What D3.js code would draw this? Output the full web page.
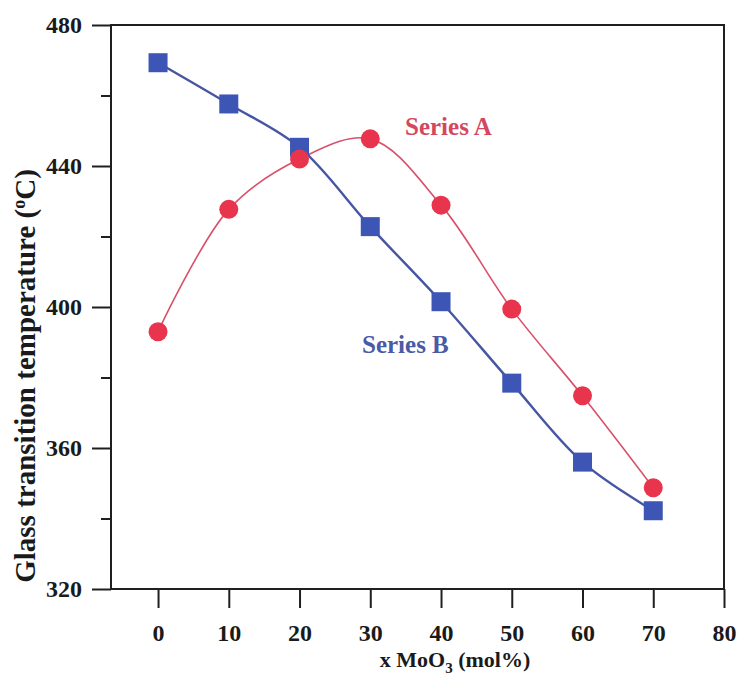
<!DOCTYPE html>
<html>
<head>
<meta charset="utf-8">
<script src="https://cdn.jsdelivr.net/npm/d3@7/dist/d3.min.js"></script>
<style>
  html, body { margin: 0; padding: 0; background: #fff; }
  svg { display: block; }
  text { font-family: "Liberation Serif", "Times New Roman", serif; font-weight: bold; }
</style>
</head>
<body>
<svg id="chart" width="738" height="677"></svg>
<script>
// MoO3 content (mol%)
const moo3 = [0, 10, 20, 30, 40, 50, 60, 70];
// Glass transition temperature (°C)
const seriesA = [393, 427.7, 442, 447.7, 428.9, 399.4, 374.8, 348.7];
const seriesB = [469.3, 457.6, 445.3, 422.8, 401.5, 378.4, 356, 342.2];
const xTicks = [0, 10, 20, 30, 40, 50, 60, 70, 80];
const yTicks = [320, 360, 400, 440, 480];
const yMinorTicks = [340, 380, 420, 460];
const seriesNames = ["Series A", "Series B"];

const svg = d3.select("#chart");
const plot = { left: 111, right: 724, top: 25, bottom: 589 };

const x = d3.scaleLinear().domain([-6.65, 80]).range([plot.left, plot.right]);
const y = d3.scaleLinear().domain([320, 480]).range([plot.bottom, plot.top]);

const colA = { line: "#d9506a", mark: "#e8344c", text: "#d4475e" };
const colB = { line: "#4656a2", mark: "#3d55b4", text: "#4b5aa5" };

// frame
svg.append("rect")
  .attr("x", plot.left).attr("y", plot.top)
  .attr("width", plot.right - plot.left).attr("height", plot.bottom - plot.top)
  .attr("fill", "none").attr("stroke", "#1f1f1f").attr("stroke-width", 2);

// y axis: major + minor ticks
const yAxis = svg.append("g").attr("transform", `translate(${plot.left},0)`)
  .call(d3.axisLeft(y).tickValues(yTicks).tickSize(19).tickPadding(10).tickFormat(d3.format("d")));
const yMinor = svg.append("g").attr("transform", `translate(${plot.left},0)`)
  .call(d3.axisLeft(y).tickValues(yMinorTicks).tickSize(10).tickFormat(""));

// x axis
const xAxis = svg.append("g").attr("transform", `translate(0,${plot.bottom})`)
  .call(d3.axisBottom(x).tickValues(xTicks).tickSize(19).tickPadding(16).tickFormat(d3.format("d")));

[yAxis, yMinor, xAxis].forEach(g => {
  g.select(".domain").remove();
  g.selectAll(".tick line").attr("stroke", "#1f1f1f").attr("stroke-width", 2);
  g.selectAll(".tick text")
    .attr("fill", "#1a1a1a")
    .style("font-family", "'Liberation Serif', 'Times New Roman', serif")
    .style("font-weight", "bold")
    .style("font-size", "24px");
});

// curves
const line = d3.line()
  .x((d, i) => x(moo3[i]))
  .y(d => y(d))
  .curve(d3.curveCatmullRom.alpha(0.5));

svg.append("path").datum(seriesA)
  .attr("d", line).attr("fill", "none")
  .attr("stroke", colA.line).attr("stroke-width", 1.6);
svg.append("path").datum(seriesB)
  .attr("d", line).attr("fill", "none")
  .attr("stroke", colB.line).attr("stroke-width", 2.4);

// markers
const sq = 19;
svg.append("g").selectAll("rect").data(seriesB).join("rect")
  .attr("x", (d, i) => x(moo3[i]) - sq / 2)
  .attr("y", d => y(d) - sq / 2)
  .attr("width", sq).attr("height", sq)
  .attr("fill", colB.mark);

svg.append("g").selectAll("circle").data(seriesA).join("circle")
  .attr("cx", (d, i) => x(moo3[i]))
  .attr("cy", d => y(d))
  .attr("r", 9.5)
  .attr("fill", colA.mark);

// series labels
svg.append("text").attr("x", 405).attr("y", 135)
  .attr("fill", colA.text).style("font-size", "25px").text(seriesNames[0]);
svg.append("text").attr("x", 362).attr("y", 353)
  .attr("fill", colB.text).style("font-size", "25px").text(seriesNames[1]);

// axis titles
const xt = svg.append("text").attr("x", 455).attr("y", 667)
  .attr("text-anchor", "middle").attr("fill", "#1a1a1a").style("font-size", "22px");
xt.append("tspan").text("x MoO");
xt.append("tspan").attr("dy", 6).style("font-size", "15px").text("3");
xt.append("tspan").attr("dy", -6).text(" (mol%)");

const yt = svg.append("text")
  .attr("transform", "translate(35,376) rotate(-90)")
  .attr("text-anchor", "middle").attr("fill", "#1a1a1a").style("font-size", "29px");
yt.append("tspan").text("Glass transition temperature (");
yt.append("tspan").attr("dy", -10).style("font-size", "18px").text("o");
yt.append("tspan").attr("dy", 10).text("C)");
</script>
</body>
</html>
